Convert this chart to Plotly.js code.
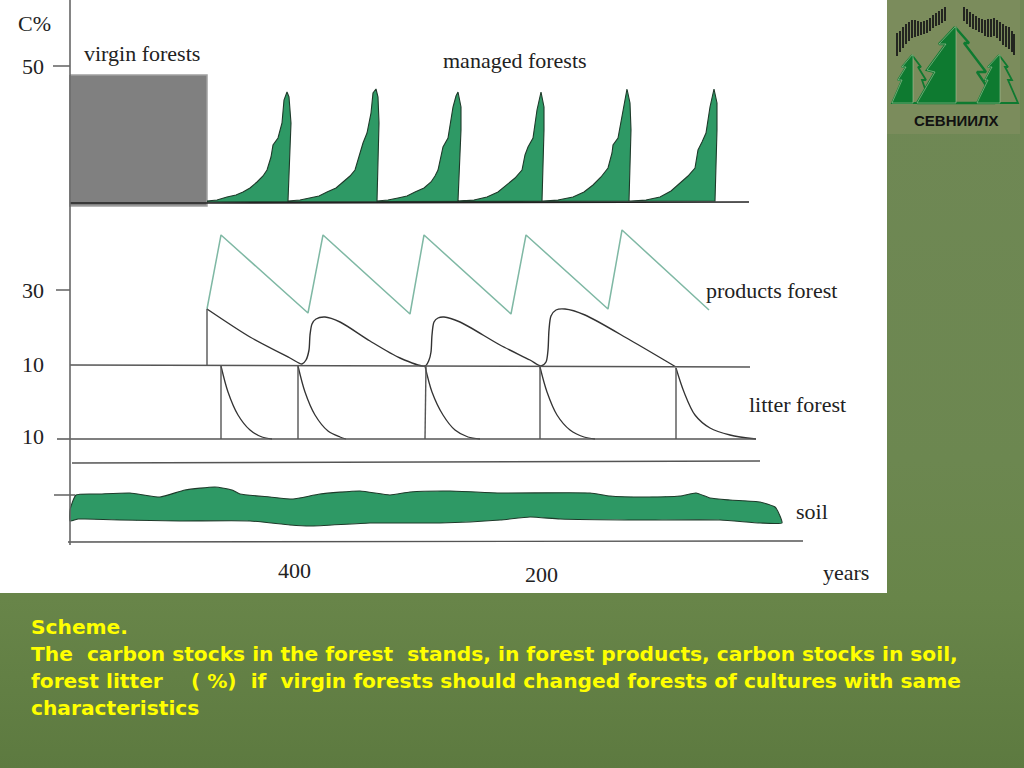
<!DOCTYPE html>
<html><head><meta charset="utf-8">
<script src="https://cdn.plot.ly/plotly-3.0.1.min.js"></script>
<style>html,body{margin:0;padding:0;width:1024px;height:768px;overflow:hidden;background:linear-gradient(180deg,#708856 0%,#6c8750 60%,#688549 78%,#5d7a40 100%)}#c{width:1024px;height:768px}</style>
</head><body><div id="c"></div>
<script>
// Scheme coordinates
const cycle1X=[207,217,227,236,243,250,257,263,267,271,273,278,282,284,287,289,291,288];
const cycle1Y=[201,200,197,195,192,188,182,176,170,157,145,138,123,100,92,97,123,201];
const cycle2X=[288,300,310,319,327,336,343,350,355,360,363,367,371,373,376,378,379,377];
const cycle2Y=[201,200,198,196,192,188,182,176,170,153,143,133,113,93,89,97,123,201];
const cycle3X=[377,388,398,407,415,424,431,435,438,442,443,448,453,456,458,461,461,458];
const cycle3Y=[201,200,198,196,192,188,182,176,170,153,147,138,107,96,92,107,130,201];
const cycle4X=[459,474,487,498,507,515,522,525,528,533,537,541,544,544,542];
const cycle4Y=[201,200,197,192,185,178,170,155,147,138,110,92,107,130,201];
const cycle5X=[543,558,573,584,593,601,608,612,613,618,623,627,630,631,629];
const cycle5Y=[201,200,197,192,185,177,168,153,145,138,110,89,103,130,201];
const cycle6X=[631,646,660,671,680,688,695,698,702,706,710,714,717,717,715,207];
const cycle6Y=[201,200,197,191,183,176,168,150,142,133,107,89,103,130,201,202];
const productsX=[207,221,308,323,410,424,511,526,608,622,709];
const productsY=[309,235,313,235,314,235,314,235,309,230,310];
const harvestX=[207,250,290,302,306,309,310,312,316,325,340,370,400,425,429,431,432,434,438,444,460,500,530,541,546,548,549,551,556,565,585,630,676];
const harvestY=[309,337,358,364,360,350,335,324,319,317,322,341,358,366,360,352,335,322,318,317,322,345,360,366,362,350,330,316,310,309,315,340,367];
const litterX=[[221,228,238,250,262,272],[298,305,315,328,340,346],[425,432,443,455,468,480],[540,547,557,570,584,595],[676,684,695,710,730,756]];
const litterY=[[366,392,415,430,437,439],[366,392,415,431,437,439],[366,392,415,430,437,439],[367,392,415,430,437,439],[368,392,415,428,435,439]];
const soilTopX=[70,76,100,130,160,185,215,232,240,270,293,320,360,390,410,450,500,590,610,640,680,696,710,730,760,775,780,782];
const soilTopY=[510,495,494,493,497,490,487,490,494,497,499,494,491,495,492,491,493,493,496,497,496,493,498,500,502,507,516,523];
const soilBottomX=[760,720,640,560,530,500,440,370,310,290,250,180,120,85,78,70,70];
const soilBottomY=[523,520,520,519,517,520,523,523,526,525,521,521,520,519,519,521,510];
const virginX=[70,207,207,70,70];
const virginY=[75,75,206,206,75];
const axisX=[70,70], axisY=[0,545];
const ruleX=[[70,207,749],[70,750],[57,756],[72,760],[54,75],[68,803],[53,70],[56,70],[207,207],[221,221],[298,298],[426,425],[540,540],[676,676]];
const ruleY=[[203,203,202],[365,367],[439,439],[463,461],[495,495],[542,541],[66,66],[290,290],[365,309],[366,439],[366,439],[366,439],[367,439],[368,439]];
const labelText=['C%','50','30','10','10','virgin forests','managed forests','products forest','litter forest','soil','400','200','years'];
const labelX=[16,20,20,20,20,82,441,704,747,794,276,523,821];
const labelY=[23,66,290,364,436,53,60,290,404,511,570,574,572];
const captionLines=['Scheme.','The\u00a0\u00a0carbon stocks in the forest\u00a0\u00a0stands, in forest products, carbon stocks in soil,','forest litter\u00a0\u00a0\u00a0\u00a0( %)\u00a0\u00a0if\u00a0\u00a0virgin forests should changed forests of cultures with same','characteristics'];
const captionY=[627,654,681,708];
// Logo
const panelX=[0,887,887,0,0], panelY=[0,0,593,593,0];
const logoBoxX=[887,1020,1020,887,887], logoBoxY=[0,0,134,134,0];
const barsX=[897,900,903,906,909,912,915,918,921,924,927,930,933,936,939,942,945,964,967,970,973,976,979,982,985,988,991,994,997,1000,1003,1006,1009,1012,1014];
const barsTop=[33,31,27,24,22,20,20,21,22,21,20,18,15,13,11,9,7,7,9,12,14,16,18,19,20,19,19,18,20,22,24,26,27,31,34];
const barsBot=[56,52,48,44,41,38,37,36,35,34,33,31,28,26,25,23,21,21,24,27,29,30,32,33,36,37,37,36,38,41,45,47,49,52,55];
const treeBigX=[955,969,964,986,977,994,994,917,935,927,946,939,955];
const treeBigY=[27,43,43,72,72,97,103,103,72,70,44,44,27];
const treeBigSolidX=[955,939,946,927,935,917,956,956,955];
const treeBigSolidY=[27,44,44,70,72,103,103,27,27];
const treeLeftX=[912,921,918,926,922,930,930,892,902,898,906,902,912];
const treeLeftY=[55,67,67,80,80,103,103,103,80,80,67,67,55];
const treeLeftSolidX=[912,902,906,898,902,892,913,913,912];
const treeLeftSolidY=[55,67,67,80,80,103,103,55,55];
const treeRightX=[999,1008,1005,1012,1008,1018,977,988,985,992,988,999];
const treeRightY=[55,67,67,80,80,103,103,80,80,67,67,55];
const treeRightSolidX=[999,988,992,985,988,977,1000,1000,999];
const treeRightSolidY=[55,67,67,80,80,103,103,55,55];

const logoBg='#7b8c5c', logoGreen='#0e7a30';
const traces=[];
function addLine(x,y,line){traces.push({type:'scatter',mode:'lines',x:x,y:y,line:line,hoverinfo:'skip',showlegend:false});}
function addFill(x,y,fillcolor,line){traces.push({type:'scatter',mode:'lines',x:x,y:y,fill:'toself',fillcolor:fillcolor,line:line,hoverinfo:'skip',showlegend:false});}

addFill(panelX,panelY,'#ffffff',{width:0});
addFill(logoBoxX,logoBoxY,logoBg,{width:0});
addFill(virginX,virginY,'#808080',{color:'#a0a0a0',width:1.5});
addFill([].concat(cycle1X,cycle2X,cycle3X,cycle4X,cycle5X,cycle6X),[].concat(cycle1Y,cycle2Y,cycle3Y,cycle4Y,cycle5Y,cycle6Y),'#2e9965',{color:'#1e3a2a',width:1.1});
addFill([].concat(soilTopX,soilBottomX),[].concat(soilTopY,soilBottomY),'#2e9965',{color:'#1e3a2a',width:1.1,shape:'spline',smoothing:0.5});
addLine(productsX,productsY,{color:'#7fb8a4',width:1.5});
addLine(harvestX,harvestY,{color:'#333333',width:1.4,shape:'spline',smoothing:0.8});
litterX.forEach((x,i)=>addLine(x,litterY[i],{color:'#333333',width:1.3,shape:'spline',smoothing:0.9}));
ruleX.forEach((x,i)=>addLine(x,ruleY[i],{color:i===0?'#222222':'#555555',width:i===0?1.6:1.4}));
addLine(axisX,axisY,{color:'#666666',width:1.6});
// Logo marks
const bx=[],by=[];
barsX.forEach((x,i)=>{bx.push(x,x,null);by.push(barsTop[i],barsBot[i],null);});
addLine(bx,by,{color:'#1a1a1a',width:1.8});
addFill(treeLeftX,treeLeftY,logoBg,{color:logoGreen,width:1.8});
addFill(treeLeftSolidX,treeLeftSolidY,logoGreen,{color:'#a8c8a0',width:0.6});
addFill(treeBigX,treeBigY,logoBg,{color:logoGreen,width:2.4});
addFill(treeBigSolidX,treeBigSolidY,logoGreen,{color:'#a8c8a0',width:0.6});
addFill(treeRightX,treeRightY,logoBg,{color:logoGreen,width:1.8});
addFill(treeRightSolidX,treeRightSolidY,logoGreen,{color:'#a8c8a0',width:0.6});

const annotations=labelText.map((t,i)=>({text:t,x:labelX[i],y:labelY[i],xref:'x',yref:'y',xanchor:'left',yanchor:'middle',showarrow:false,font:{family:'Liberation Serif',size:22,color:'#222222'}}));
captionLines.forEach((t,i)=>annotations.push({text:t,x:29,y:captionY[i],xref:'x',yref:'y',xanchor:'left',yanchor:'middle',showarrow:false,font:{family:'DejaVu Sans',size:20.2,color:'#ffff00',weight:700}}));
annotations.push({text:'СЕВНИИЛХ',x:956,y:120,xref:'x',yref:'y',xanchor:'center',yanchor:'middle',showarrow:false,font:{family:'Liberation Sans',size:15,color:'#111111',weight:700}});

Plotly.newPlot('c',traces,{
 width:1024,height:768,margin:{l:0,r:0,t:0,b:0},
 paper_bgcolor:'rgba(0,0,0,0)',plot_bgcolor:'rgba(0,0,0,0)',showlegend:false,
 xaxis:{range:[0,1024],visible:false,fixedrange:true},
 yaxis:{range:[768,0],visible:false,fixedrange:true},
 annotations:annotations
},{displayModeBar:false,staticPlot:true});
</script></body></html>
